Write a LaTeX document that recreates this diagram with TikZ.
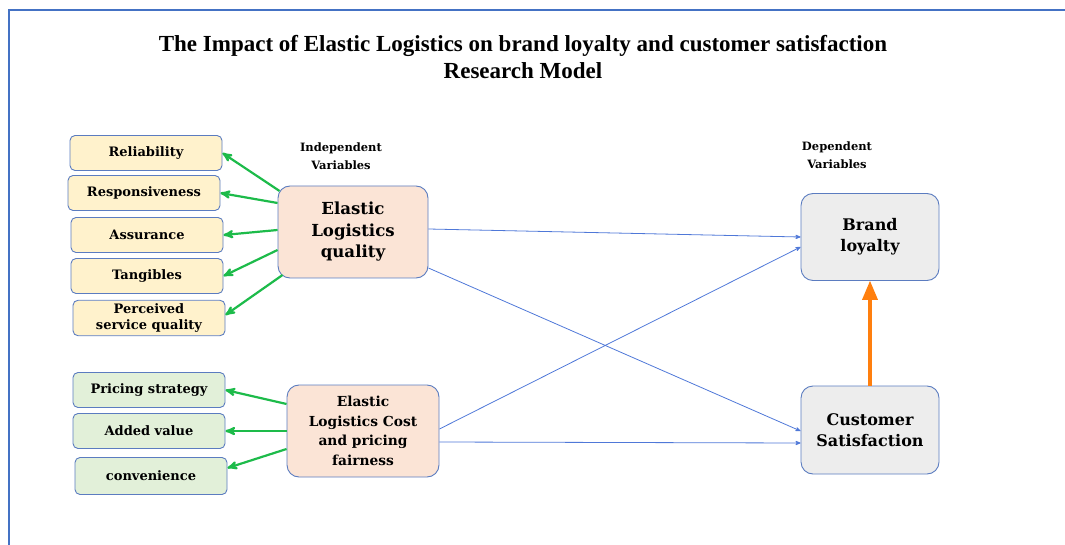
\documentclass[tikz,border=0pt]{standalone}
\usepackage[usenames,dvipsnames]{xcolor}
\usepackage{fontspec}
\setmainfont{DejaVu Serif}
\newfontfamily\titlefont{Liberation Serif}
\usepackage{tikz}
\usetikzlibrary{arrows}

\definecolor{FrameBlue}{HTML}{4472C4}
\definecolor{LinkBlue}{HTML}{4F78D8}
\definecolor{BoxLine}{HTML}{5B7CC0}
\definecolor{DimYellow}{HTML}{FFF2CC}
\definecolor{DimGreen}{HTML}{E2F0D9}
\definecolor{Peach}{HTML}{FBE4D6}
\definecolor{Shade}{HTML}{EDEDED}
\definecolor{LeafGreen}{HTML}{1DBB4A}
\definecolor{Flame}{HTML}{FF7F0E}

\begin{document}
\begin{tikzpicture}[x=1pt, y=-1pt, >=stealth', quality/.style={draw=BoxLine, line width=0.9pt, rounded corners=5pt, fill=DimYellow, minimum width=152pt, minimum height=35pt, align=center, font=\fontsize{13}{14}\selectfont\bfseries}, pricing/.style={quality, fill=DimGreen}, factor/.style={draw=BoxLine, line width=0.9pt, rounded corners=12pt, fill=Peach, minimum width=150pt, minimum height=92pt, align=center}, outcome/.style={factor, fill=Shade, minimum width=138pt, minimum height=87pt}, group/.style={align=center, font=\fontsize{11.5}{18}\selectfont\bfseries}, leaf/.style={->, draw=LeafGreen, line width=2.2pt}, link/.style={->, draw=LinkBlue, line width=0.8pt}, support/.style={-triangle 45, draw=Flame, line width=3.5pt}]

\useasboundingbox (0,0) rectangle (1065,545);

% frame
\draw[FrameBlue, line width=2pt] (1065,10) -- (9,10) -- (9,545);

\node[font=\titlefont\fontsize{23}{27}\selectfont\bfseries, align=center] (title) at (523,57) {The Impact of Elastic Logistics on brand loyalty and customer satisfaction\\Research Model};

\node[group] (IV) at (341,156) {Independent\\Variables};
\node[group] (DV) at (837,155) {Dependent\\Variables};

\node[quality] (Q1) at (146,153) {Reliability};
\node[quality] (Q2) at (144,193) {Responsiveness};
\node[quality] (Q3) at (147,235) {Assurance};
\node[quality] (Q4) at (147,276) {Tangibles};
\node[quality, font=\fontsize{13}{16}\selectfont\bfseries] (Q5) at (149,318) {Perceived\\service quality};

\node[pricing] (P1) at (149,390) {Pricing strategy};
\node[pricing] (P2) at (149,431) {Added value};
\node[pricing, minimum height=37pt] (P3) at (151,476) {convenience};

\node[factor, font=\fontsize{16.6}{21.5}\selectfont\bfseries] (ELQ) at (353,232) {Elastic\\Logistics\\quality};
\node[factor, minimum width=152pt, font=\fontsize{13.8}{19.5}\selectfont\bfseries] (ELC) at (363,431) {Elastic\\Logistics Cost\\and pricing\\fairness};

\node[outcome, font=\fontsize{16}{21}\selectfont\bfseries] (BL) at (870,237) {Brand\\loyalty};
\node[outcome, minimum height=88pt, font=\fontsize{16}{21}\selectfont\bfseries] (CS) at (870,430) {Customer\\Satisfaction};

% dimensions of each factor
\foreach \to/\dx/\dy/\dz in {Q1/2/41/0, Q2/0/29/0, Q3/0/2/0, Q4/0/-18/0, Q5/5/-43/3}
    \draw[leaf] ([xshift=\dx pt, yshift=\dy pt]ELQ.west) -- ([yshift=\dz pt]\to.east);
\foreach \to/\dy/\dz in {P1/27/0, P2/0/0, P3/-18/8}
    \draw[leaf] ([yshift=\dy pt]ELC.west) -- ([yshift=\dz pt]\to.east);

% factors to outcomes
\foreach \from/\da/\to/\db in {ELQ/3/BL/0, ELQ/-36/CS/-1, ELC/2/BL/-10, ELC/-11/CS/-13}
    \draw[link] ([yshift=\da pt]\from.east) -- ([yshift=\db pt]\to.west);

\draw[support] (CS.north) -- (BL.south);
\end{tikzpicture}
\end{document}
